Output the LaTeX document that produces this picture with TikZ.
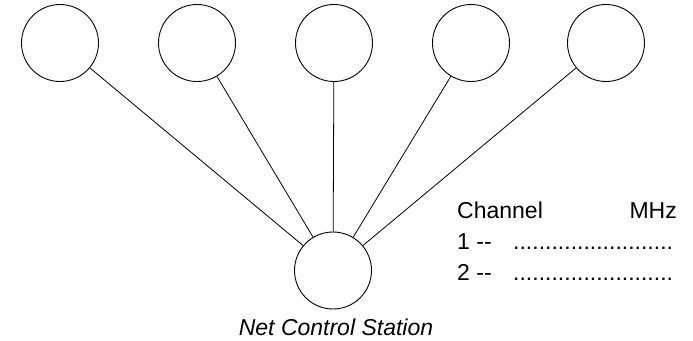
\documentclass[tikz,border=0pt]{standalone}
\usepackage{fontspec}
\setmainfont{Liberation Sans}
\begin{document}
\begin{tikzpicture}[x=1pt,y=-1pt,
  station/.style={circle,draw,line width=0.9pt,minimum size=77pt,inner sep=0pt},
  link/.style={line width=0.8pt},
  lbl/.style={inner sep=0pt,font=\fontsize{23}{27}\selectfont}]
\useasboundingbox (0,0) rectangle (693,340);
\node[station] (s1) at (60,43) {};
\node[station] (s2) at (197,43) {};
\node[station] (s3) at (334,43) {};
\node[station] (s4) at (471,43) {};
\node[station] (s5) at (606,43) {};
\node[station] (nc) at (333,270.5) {};
\foreach \i in {1,...,5} \draw[link] (s\i) -- (nc);
\node[lbl,anchor=base,font=\fontsize{23}{27}\selectfont\itshape] (ncl) at (336,335) {Net Control Station};
\node[lbl,anchor=base west] (ch) at (457,218) {Channel};
\node[lbl,anchor=base east] (mhz) at (677,218) {MHz};
\node[lbl,anchor=base west] (c1) at (457,249) {1 -{}-};
\node[lbl,anchor=base west] (d1) at (513,249) {.........................};
\node[lbl,anchor=base west] (c2) at (457,280) {2 -{}-};
\node[lbl,anchor=base west] (d2) at (513,280) {.........................};
\end{tikzpicture}
\end{document}
